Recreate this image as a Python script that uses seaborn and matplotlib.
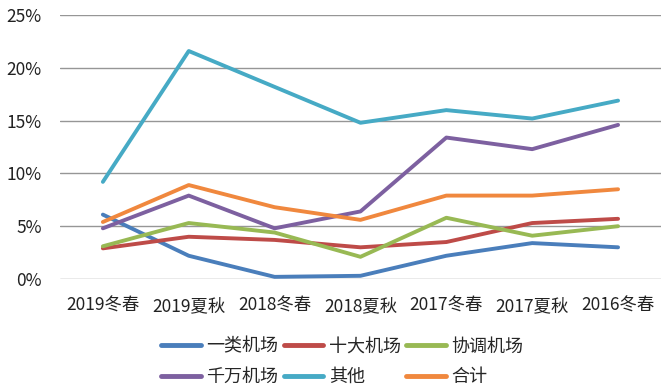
import pandas as pd
import matplotlib.pyplot as plt
import seaborn as sns
from matplotlib.ticker import FuncFormatter

# categorias (temporadas) e séries
temporadas = ["2019冬春", "2019夏秋", "2018冬春", "2018夏秋", "2017冬春", "2017夏秋", "2016冬春"]
series = ["一类机场", "十大机场", "协调机场", "千万机场", "其他", "合计"]

yilei = [0.061, 0.022, 0.002, 0.003, 0.022, 0.034, 0.030]
shida = [0.029, 0.040, 0.037, 0.030, 0.035, 0.053, 0.057]
xietiao = [0.031, 0.053, 0.044, 0.021, 0.058, 0.041, 0.050]
qianwan = [0.048, 0.079, 0.048, 0.064, 0.134, 0.123, 0.146]
qita = [0.092, 0.216, 0.182, 0.148, 0.160, 0.152, 0.169]
heji = [0.054, 0.089, 0.068, 0.056, 0.079, 0.079, 0.085]

cores = ["#4A7EBB", "#BE4B48", "#98B954", "#7D60A0", "#46AAC5", "#F0883E"]

valores = [yilei, shida, xietiao, qianwan, qita, heji]
linhas = []
for nome, vals in zip(series, valores):
    for i, (t, v) in enumerate(zip(temporadas, vals)):
        linhas.append({"temporada": t, "pos": i, "serie": nome, "valor": v})
df = pd.DataFrame(linhas)

sns.set_style("white")
plt.rcParams["font.family"] = ["Noto Sans CJK SC", "DejaVu Sans"]

fig = plt.figure(figsize=(6.66, 3.88), dpi=100)
ax = fig.add_axes([0.09, 0.281, 0.9025, 0.68])

sns.lineplot(data=df, x="pos", y="valor", hue="serie", hue_order=series,
             palette=cores, linewidth=2.8, ax=ax, legend=False, sort=False)

ax.set_xlim(-0.5, len(temporadas) - 0.5)
ax.set_ylim(0, 0.25)
ax.set_yticks([0, 0.05, 0.10, 0.15, 0.20, 0.25])
ax.yaxis.set_major_formatter(FuncFormatter(lambda v, p: f"{v*100:.0f}%"))
ax.set_xticks(range(len(temporadas)))
ax.set_xticklabels(temporadas)
ax.tick_params(axis="both", labelsize=12.5, length=0, colors="#222222")
ax.tick_params(axis="x", pad=13)
ax.tick_params(axis="y", pad=13)
ax.grid(axis="y", color="#969696", linewidth=1)
ax.set_axisbelow(True)
for s in ax.spines.values():
    s.set_visible(False)
ax.set_xlabel("")
ax.set_ylabel("")

# legenda em 2 linhas de 3 (ordem por linha)
handles = [plt.Line2D([], [], color=c, linewidth=3.5) for c in cores]
ordem = [0, 3, 1, 4, 2, 5]
fig.legend([handles[i] for i in ordem], [series[i] for i in ordem],
           ncol=3, loc="upper left", bbox_to_anchor=(0.242, 0.13),
           frameon=False, fontsize=13, handlelength=2.2, handletextpad=0.3,
           columnspacing=0.3, labelspacing=0.7, borderpad=0, borderaxespad=0)

plt.savefig("out.png", dpi=100)
